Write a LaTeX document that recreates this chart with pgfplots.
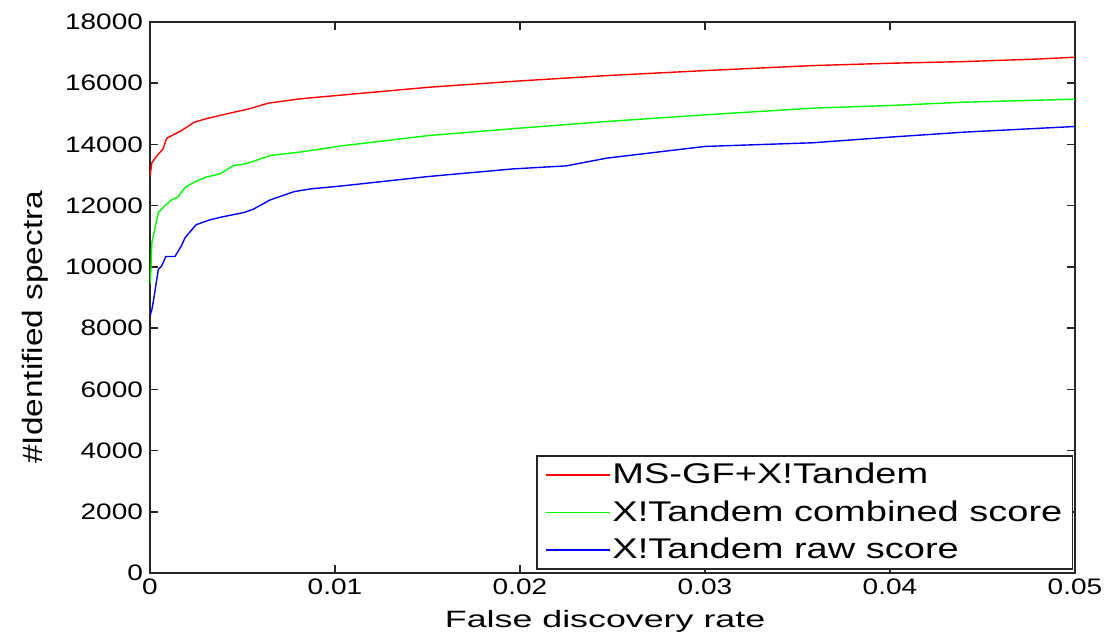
\documentclass[border=0pt]{standalone}
\usepackage{fontspec}
\setmainfont{Liberation Sans}
\usepackage{graphicx}
\usepackage{pgfplots}
\pgfplotsset{compat=1.18}

\begin{document}
\begin{tikzpicture}
\begin{axis}[
    at={(0,0)}, anchor=south west,
    scale only axis,
    width=462.5pt, height=275.5pt,
    xmin=0, xmax=0.05, ymin=0, ymax=18000,
    scaled x ticks=false, scaled y ticks=false,
    xtick={0,0.01,0.02,0.03,0.04,0.05},
    xticklabels={0,0.01,0.02,0.03,0.04,0.05},
    ytick={0,2000,4000,6000,8000,10000,12000,14000,16000,18000},
    yticklabels={0,2000,4000,6000,8000,10000,12000,14000,16000,18000},
    tick align=inside,
    major tick length=4pt,
    axis line style={black!85, line width=0.75pt},
    every tick/.style={black!85, line width=0.75pt},
    tick label style={font=\fontsize{14}{16}\selectfont, yscale=0.8},
    xlabel={\scalebox{1}[0.66]{False discovery rate}},
    ylabel={\scalebox{1}[0.84]{\#Identified spectra}},
    xlabel style={font=\fontsize{17.9}{20}\selectfont, at={(axis description cs:0.492,-0.098)}, anchor=base},
    ylabel style={font=\fontsize{16.7}{19}\selectfont, at={(axis description cs:-0.124,0.446)}, anchor=center},
    legend image code/.code={\draw[#1] (0pt,0pt) -- (32pt,0pt);},
    legend cell align=left,
    legend style={at={(axis description cs:0.998,0.006)}, anchor=south east,
        font=\fontsize{19}{20}\selectfont, draw=black!85, line width=0.75pt,
        row sep=4pt, inner xsep=4.25pt, inner ysep=2pt,
        nodes={inner xsep=0.75pt, inner ysep=1.5pt}},
]
\addplot[red, line width=0.7pt] coordinates {
    (0,12950) (0.0001,13400) (0.0004,13650) (0.0007,13850) (0.0009,14200)
    (0.0013,14330) (0.0017,14450) (0.0024,14730) (0.0031,14850) (0.0038,14950)
    (0.0046,15060) (0.0054,15170) (0.0064,15350) (0.0081,15490) (0.0103,15610)
    (0.0151,15870) (0.02,16076) (0.0247,16250) (0.03,16413) (0.0358,16576)
    (0.04,16652) (0.044,16707) (0.0481,16793) (0.05,16850)
};
\addlegendentry{\scalebox{1}[0.75]{MS-GF+X!Tandem}}

\addplot[green, line width=0.7pt] coordinates {
    (0,9450) (0.00005,9900) (0.0001,10800) (0.0002,11070) (0.00045,11780)
    (0.0008,12000) (0.0012,12200) (0.0015,12275) (0.0019,12600) (0.0024,12770)
    (0.003,12930) (0.0038,13040) (0.0045,13310) (0.0052,13370) (0.0065,13640)
    (0.0081,13750) (0.0103,13950) (0.0151,14293) (0.02,14533) (0.0247,14750)
    (0.03,14967) (0.0358,15185) (0.04,15272) (0.044,15380) (0.05,15478)
};
\addlegendentry{\scalebox{1}[0.75]{X!Tandem combined score}}

\addplot[blue, line width=0.7pt] coordinates {
    (0,8400) (0.0001,8600) (0.0002,8940) (0.00045,9920) (0.00063,10030)
    (0.00086,10340) (0.00135,10340) (0.0017,10690) (0.0019,10960) (0.0025,11380)
    (0.0032,11530) (0.0038,11620) (0.0051,11780) (0.0056,11890) (0.0065,12190)
    (0.0078,12460) (0.0087,12550) (0.0103,12640) (0.015,12950) (0.0196,13200)
    (0.0225,13300) (0.0247,13554) (0.03,13935) (0.0358,14054) (0.04,14239)
    (0.044,14402) (0.05,14587)
};
\addlegendentry{\scalebox{1}[0.75]{X!Tandem raw score}}
\end{axis}
\pgfresetboundingbox
\useasboundingbox (-75pt,-30.5pt) rectangle (477pt,286.5pt);
\end{tikzpicture}
\end{document}
